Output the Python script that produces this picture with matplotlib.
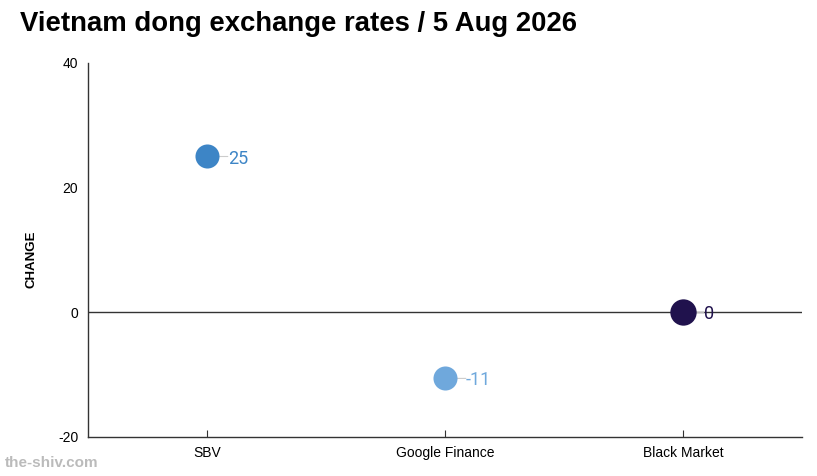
import matplotlib
matplotlib.use("Agg")
import matplotlib.pyplot as plt

categories = ["SBV", "Google Finance", "Black Market"]
values = [25, -10.6, 0]
labels = ["25", "-11", "0"]
colors = ["#3d85c6", "#6fa8dc", "#20124d"]
sizes = [300, 300, 360]
yticks = [-20, 0, 20, 40]

plt.rcParams['font.family'] = ['Liberation Sans', 'DejaVu Sans']

fig = plt.figure(figsize=(8.17, 4.76), dpi=100)
ax = fig.add_axes([88/817, 1 - 437/476, (802-88)/817, (437-63)/476])

ax.axhline(0, color="#333333", lw=1.0, zorder=1)
xs = list(range(len(categories)))
for x, v, lab, c, s in zip(xs, values, labels, colors, sizes):
    ax.scatter([x], [v], s=s, color=c, zorder=3, linewidths=0)
    ax.annotate("", xy=(x, v), xytext=(15, 0), textcoords="offset points",
                arrowprops=dict(arrowstyle="-", color="#cccccc", lw=0.8,
                                shrinkA=0, shrinkB=0), zorder=2)
    ax.annotate(lab, xy=(x, v), xytext=(15, 0), textcoords="offset points",
                ha="left", va="center_baseline", fontsize=13, color=c,
                family=["Roboto", "DejaVu Sans"], zorder=4)

ax.set_xlim(-0.5, 2.5)
ax.set_ylim(-20, 40)
ax.set_xticks(xs)
ax.set_xticklabels(categories, fontsize=10)
ax.set_yticks(yticks)
ax.set_yticklabels([str(t) for t in yticks], fontsize=10)
ax.tick_params(axis="y", length=0, pad=7)
ax.tick_params(axis="x", direction="in", length=5, color="#333333", pad=6.5)
for sp in ["top", "right"]:
    ax.spines[sp].set_visible(False)
for sp in ["left", "bottom"]:
    ax.spines[sp].set_color("#333333")
    ax.spines[sp].set_linewidth(1.0)
ax.set_ylabel("CHANGE", fontsize=9.5, fontweight="bold")
ax.yaxis.set_label_coords(-0.0714, 0.476)

fig.text(20/817, 1 - 24/476, "Vietnam dong exchange rates / 5 Aug 2026",
         fontsize=19.8, fontweight="bold", ha="left", va="center")
fig.text(5/817, 1 - 463/476, "the-shiv.com", fontsize=11, fontweight="bold",
         color="#bbbbbb", ha="left", va="center")

fig.savefig("out.png", dpi=100)
